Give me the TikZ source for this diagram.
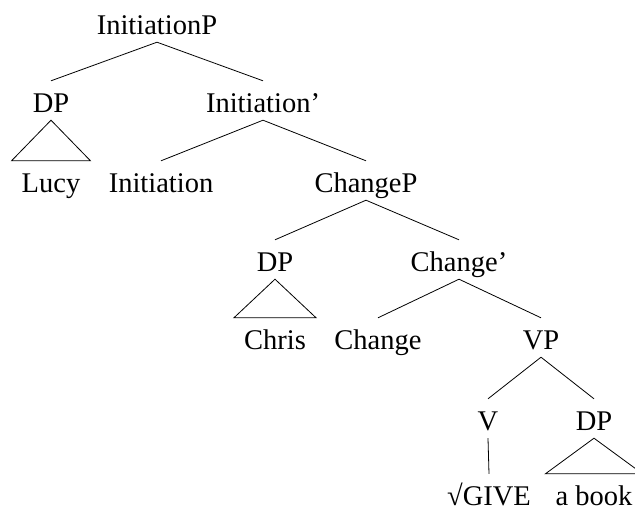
\documentclass[tikz,border=0pt]{standalone}
\usepackage{fontspec}
\setmainfont{Liberation Serif}
\begin{document}
\begin{tikzpicture}[x=1pt,y=-1pt,
  tn/.style={inner xsep=10pt, inner ysep=0pt, text height=31pt, text depth=8pt, anchor=base, font=\fontsize{28.5}{30}\selectfont},
  leaf/.style={tn, text depth=5pt},
  edge/.style={draw, line width=0.8pt}]
\useasboundingbox (0,0) rectangle (635,512);
\node[tn] (ip) at (157,34) {InitiationP};
\node[tn] (dp1) at (51,112) {DP};
\node[tn] (ib) at (263,112) {Initiation’};
\node[tn] (lucy) at (51,192) {Lucy};
\node[tn] (init) at (161,192) {Initiation};
\node[tn] (cp) at (366,192) {ChangeP};
\node[tn] (dp2) at (275,271) {DP};
\node[tn] (cb) at (459,271) {Change’};
\node[tn] (chris) at (275,349) {Chris};
\node[tn] (ch) at (378,349) {Change};
\node[tn] (vp) at (541,349) {VP};
\node[tn] (v) at (488,430) {V};
\node[tn] (dp3) at (594,430) {DP};
\node[leaf] (give) at (489,505) {√GIVE};
\node[leaf] (book) at (594,505) {a book};
\path[edge] (ip.south) -- (dp1.north);
\path[edge] (ip.south) -- (ib.north);
\path[edge] (dp1.south) -- (lucy.north west) -- (lucy.north east) -- cycle;
\path[edge] (ib.south) -- (init.north);
\path[edge] (ib.south) -- (cp.north);
\path[edge] (cp.south) -- (dp2.north);
\path[edge] (cp.south) -- (cb.north);
\path[edge] (dp2.south) -- (chris.north west) -- (chris.north east) -- cycle;
\path[edge] (cb.south) -- (ch.north);
\path[edge] (cb.south) -- (vp.north);
\path[edge] (vp.south) -- (v.north);
\path[edge] (vp.south) -- (dp3.north);
\path[edge] (v.south) -- (give.north);
\path[edge] (dp3.south) -- (book.north west) -- (book.north east) -- cycle;
\end{tikzpicture}
\end{document}
